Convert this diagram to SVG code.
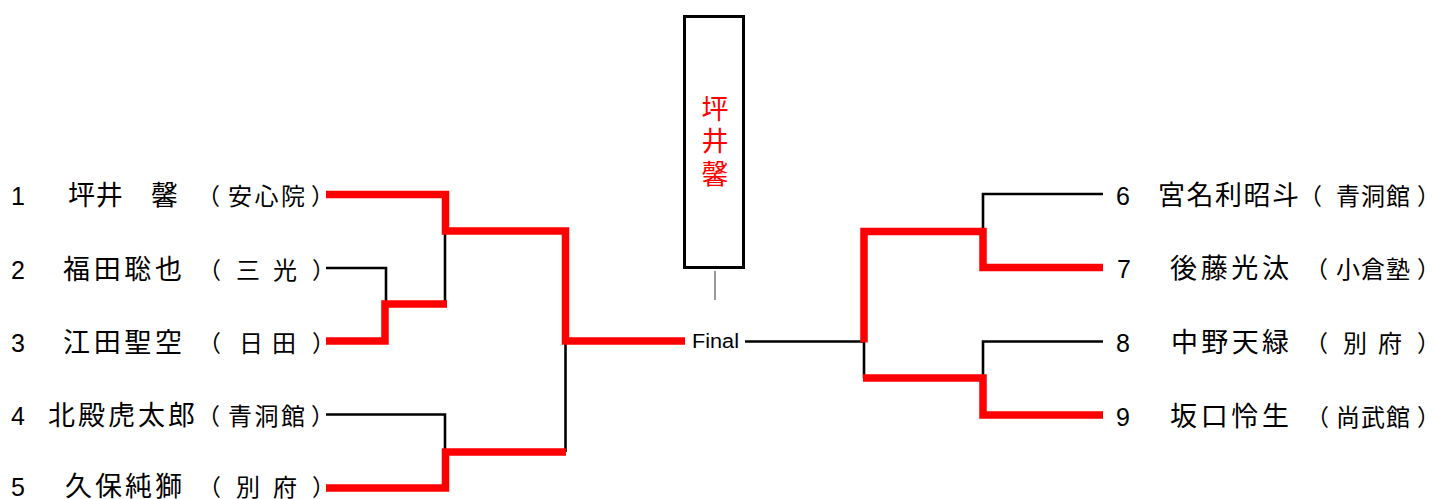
<svg xmlns="http://www.w3.org/2000/svg" width="1433" height="499" viewBox="0 0 1433 499">
<style>
.num{font-family:"Liberation Sans",Arial,sans-serif;font-size:25px;fill:#000}
.name{font-family:"Noto Sans CJK JP","Noto Sans CJK SC",sans-serif;font-size:27px;fill:#000}
.sch{font-family:"Noto Sans CJK JP","Noto Sans CJK SC",sans-serif;font-size:24px;fill:#000}
.par{font-family:"Noto Sans CJK JP","Noto Sans CJK SC",sans-serif;font-size:23px;fill:#000}
.blk{fill:none;stroke:#000;stroke-width:2.6}
.red{fill:none;stroke:#ff0000;stroke-width:7.5;stroke-linejoin:miter}
.champ{font-family:"Noto Sans CJK JP","Noto Sans CJK SC",sans-serif;font-size:27px;fill:#ff0000}
.fin{font-family:"Liberation Sans",Arial,sans-serif;font-size:20px;fill:#000}
</style>
<rect width="1433" height="499" fill="#fff"/>
<g id="connectors">
  <path class="blk" d="M326,268 H386 V304"/>
  <path class="blk" d="M445,231 V304"/>
  <path class="blk" d="M326,414.5 H445 V452"/>
  <path class="blk" d="M565.5,341 V452"/>
  <path class="blk" d="M1103,194 H983 V231"/>
  <path class="blk" d="M745,341.5 H864 V378"/>
  <path class="blk" d="M1103,341.5 H983 V378"/>
  <path class="blk" d="M715,271 V300" style="stroke:#555;stroke-width:1.2"/>
  <path class="red" d="M326,194.5 H445.5 V231 H565.5 V341 H685"/>
  <path class="red" d="M326,341 H385 V304 H447"/>
  <path class="red" d="M326,488 H445.5 V452 H566"/>
  <path class="red" d="M1103,267.5 H983 V231.5 H864 V342.5"/>
  <path class="red" d="M1103,415 H983 V378 H863"/>
</g>
<g id="champion">
  <rect x="684.5" y="16.5" width="59" height="251" fill="none" stroke="#000" stroke-width="3"/>
  <text class="champ" x="715" y="95" writing-mode="vertical-rl" letter-spacing="5.5">坪井馨</text>
</g>
<g id="final">
  <text class="fin" x="692" y="348" textLength="47" lengthAdjust="spacingAndGlyphs">Final</text>
</g>
<g id="p1">
  <text class="num" x="11" y="205">1</text>
  <text class="name" x="68" y="205" textLength="110" lengthAdjust="spacing">坪井　馨</text>
  <text class="par" x="197" y="205">（</text>
  <text class="sch" x="228" y="205" textLength="77" lengthAdjust="spacing">安心院</text>
  <text class="par" x="311" y="205">）</text>
</g>
<g id="p2">
  <text class="num" x="11" y="279">2</text>
  <text class="name" x="63" y="279" textLength="119" lengthAdjust="spacing">福田聡也</text>
  <text class="par" x="198" y="279">（</text>
  <text class="sch" x="236" y="279" textLength="61" lengthAdjust="spacing">三光</text>
  <text class="par" x="312" y="279">）</text>
</g>
<g id="p3">
  <text class="num" x="11" y="352">3</text>
  <text class="name" x="63" y="352" textLength="119" lengthAdjust="spacing">江田聖空</text>
  <text class="par" x="198" y="352">（</text>
  <text class="sch" x="239" y="352" textLength="57" lengthAdjust="spacing">日田</text>
  <text class="par" x="312" y="352">）</text>
</g>
<g id="p4">
  <text class="num" x="11" y="425">4</text>
  <text class="name" x="48" y="425" textLength="147" lengthAdjust="spacing">北殿虎太郎</text>
  <text class="par" x="197" y="425">（</text>
  <text class="sch" x="228" y="425" textLength="77" lengthAdjust="spacing">青洞館</text>
  <text class="par" x="311" y="425">）</text>
</g>
<g id="p5">
  <text class="num" x="11" y="496">5</text>
  <text class="name" x="65" y="496" textLength="117" lengthAdjust="spacing">久保純獅</text>
  <text class="par" x="198" y="496">（</text>
  <text class="sch" x="236" y="496" textLength="61" lengthAdjust="spacing">別府</text>
  <text class="par" x="312" y="496">）</text>
</g>
<g id="p6">
  <text class="num" x="1116" y="205">6</text>
  <text class="name" x="1158" y="205" textLength="141" lengthAdjust="spacing">宮名利昭斗</text>
  <text class="par" x="1299" y="205">（</text>
  <text class="sch" x="1336" y="205" textLength="74" lengthAdjust="spacing">青洞館</text>
  <text class="par" x="1417" y="205">）</text>
</g>
<g id="p7">
  <text class="num" x="1117" y="278">7</text>
  <text class="name" x="1170" y="278" textLength="119" lengthAdjust="spacing">後藤光汰</text>
  <text class="par" x="1305" y="278">（</text>
  <text class="sch" x="1336" y="278" textLength="74" lengthAdjust="spacing">小倉塾</text>
  <text class="par" x="1417" y="278">）</text>
</g>
<g id="p8">
  <text class="num" x="1116" y="352">8</text>
  <text class="name" x="1171" y="352" textLength="118" lengthAdjust="spacing">中野天緑</text>
  <text class="par" x="1305" y="352">（</text>
  <text class="sch" x="1343" y="352" textLength="59" lengthAdjust="spacing">別府</text>
  <text class="par" x="1417" y="352">）</text>
</g>
<g id="p9">
  <text class="num" x="1116" y="426">9</text>
  <text class="name" x="1170" y="426" textLength="119" lengthAdjust="spacing">坂口怜生</text>
  <text class="par" x="1306" y="426">（</text>
  <text class="sch" x="1336" y="426" textLength="74" lengthAdjust="spacing">尚武館</text>
  <text class="par" x="1417" y="426">）</text>
</g>
</svg>
